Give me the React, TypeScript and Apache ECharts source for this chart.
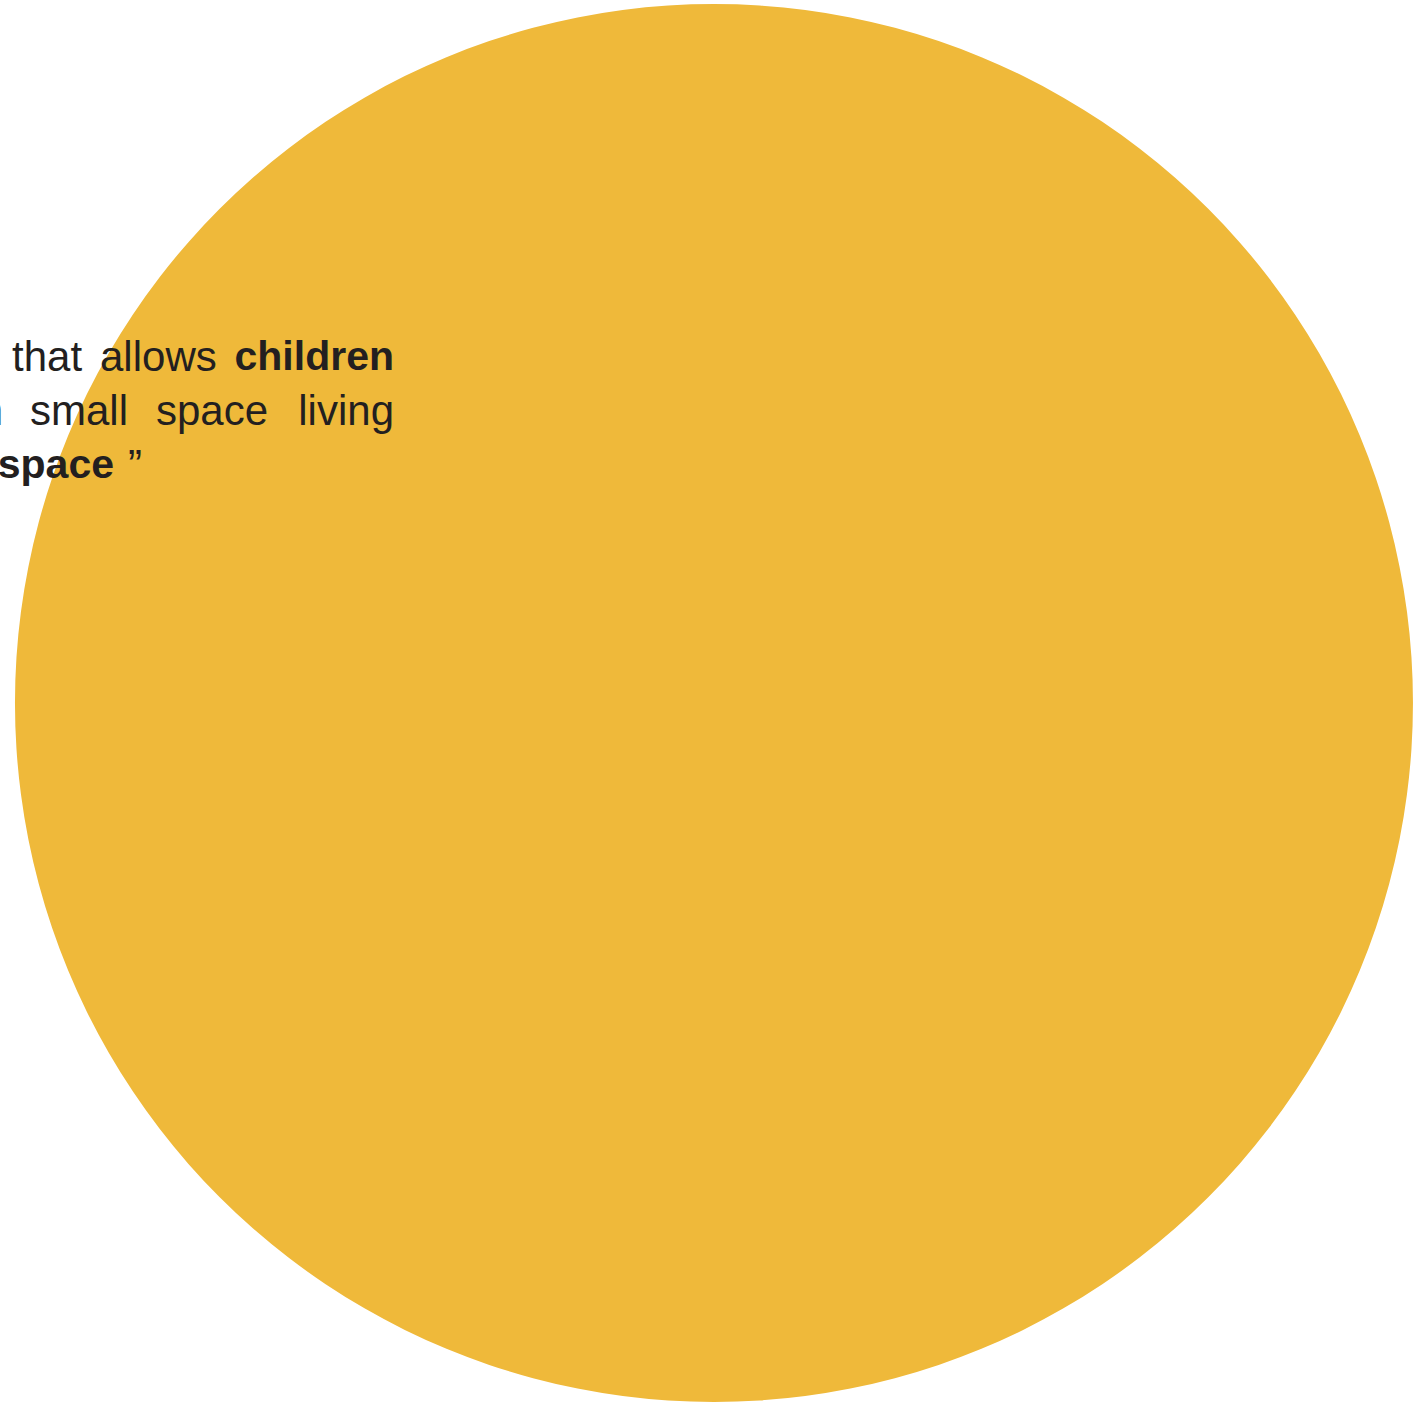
import React, { useEffect, useRef } from "react";
import * as echarts from "echarts";

// ---- data ----
const sliceNames = ["Whole"];
const sliceValues = [100];
const sliceColors = ["#EFB93A"];

const line1Words = ["that", "allows", "children"];
const line1Bold = [false, false, true];
const line2Words = ["in", "small", "space", "living"];
const line2Bold = [false, false, false, false];
const line3Words = ["space", "\u201D"];
const line3Bold = [true, false];

// ---- layout (positions only) ----
const FONT_SIZE = 42;
const BOLD_SIZE = 41;
const TEXT_COLOR = "#231F20";
const FONT_FAMILY = "'Liberation Sans', Arial, Helvetica, sans-serif";
const lineMidY = [356, 410, 464];
// [x, align]
const line1Pos: [number, string][] = [[12, "left"], [100, "left"], [394, "right"]];
const line2Pos: [number, string][] = [[3, "right"], [30, "left"], [156, "left"], [394, "right"]];
const line3Pos: [number, string][] = [[114, "right"], [128, "left"]];

function buildWords(words: string[], bold: boolean[], pos: [number, string][], y: number) {
  return words.map((w, i) => ({
    type: "text",
    x: pos[i][0],
    y,
    z: 100,
    silent: true,
    style: {
      text: w,
      fill: TEXT_COLOR,
      fontSize: bold[i] ? BOLD_SIZE : FONT_SIZE,
      fontWeight: bold[i] ? "bold" : "normal",
      fontFamily: FONT_FAMILY,
      align: pos[i][1],
      verticalAlign: "middle",
    },
  }));
}

export default function App() {
  const ref = useRef<HTMLDivElement>(null);
  useEffect(() => {
    if (!ref.current) return;
    const chart = echarts.init(ref.current, undefined, { renderer: "svg" });
    chart.setOption({
      animation: false,
      backgroundColor: "#ffffff",
      series: [
        {
          type: "pie",
          center: [714, 703],
          radius: [0, 699],
          silent: true,
          label: { show: false },
          labelLine: { show: false },
          emphasis: { disabled: true },
          itemStyle: { borderWidth: 0 },
          data: sliceNames.map((n, i) => ({
            name: n,
            value: sliceValues[i],
            itemStyle: { color: sliceColors[i] },
          })),
        },
      ],
      graphic: [
        ...buildWords(line1Words, line1Bold, line1Pos, lineMidY[0]),
        ...buildWords(line2Words, line2Bold, line2Pos, lineMidY[1]),
        ...buildWords(line3Words, line3Bold, line3Pos, lineMidY[2]),
      ],
    });
    return () => chart.dispose();
  }, []);
  return (
    <div
      ref={ref}
      style={{ position: "fixed", left: 0, top: 0, width: 1413, height: 1405 }}
    />
  );
}
